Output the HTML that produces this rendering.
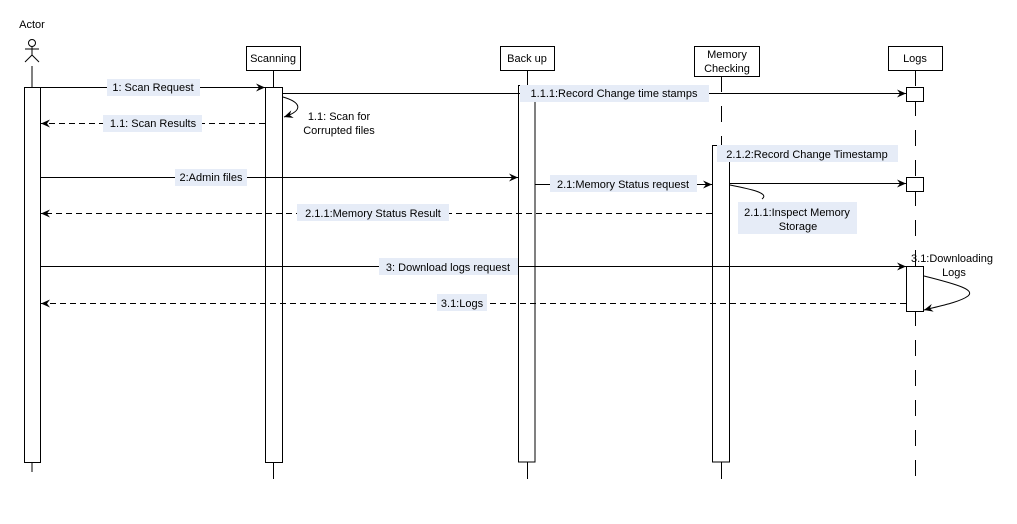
<!DOCTYPE html>
<html><head><meta charset="utf-8"><style>
html,body{margin:0;padding:0;background:#fff;}
svg{display:block;}
text{font-family:"Liberation Sans",Arial,sans-serif;font-size:11px;fill:#000;}
</style></head><body>
<svg width="1017" height="524" viewBox="0 0 1017 524" xmlns="http://www.w3.org/2000/svg">
<defs>
<marker id="a" markerWidth="10" markerHeight="8" refX="9" refY="4" orient="auto" markerUnits="userSpaceOnUse">
<path d="M0,0 L9,4 L0,8 L3,4 Z" fill="#000"/></marker>
</defs>
<g stroke="#000" stroke-width="1" fill="none">
<circle cx="32" cy="43" r="3.5"/>
<line x1="32" y1="46.5" x2="32" y2="55"/>
<line x1="25" y1="49" x2="39" y2="49"/>
<line x1="32" y1="55" x2="25" y2="62"/>
<line x1="32" y1="55" x2="39" y2="62"/>
<line x1="32" y1="66" x2="32" y2="87"/>
<line x1="32" y1="455" x2="32" y2="472"/>
<rect x="24.5" y="87.5" width="16" height="375" fill="#fff"/>
<rect x="246.5" y="46.5" width="54" height="24" fill="#fff"/>
<line x1="273.5" y1="70" x2="273.5" y2="479"/>
<rect x="265.5" y="87.5" width="17" height="375" fill="#fff"/>
<rect x="500.5" y="46.5" width="54" height="24" fill="#fff"/>
<line x1="527.5" y1="70" x2="527.5" y2="479"/>
<rect x="518.5" y="85.5" width="16.5" height="376.5" fill="#fff"/>
<rect x="694.5" y="46.5" width="65" height="30" fill="#fff"/>
<line x1="721.5" y1="76" x2="721.5" y2="145" stroke-dasharray="16,14"/>
<line x1="721.5" y1="462" x2="721.5" y2="479"/>
<rect x="712.5" y="145.5" width="17" height="316.5" fill="#fff"/>
<rect x="888.5" y="46.5" width="54" height="24" fill="#fff"/>
<line x1="915.5" y1="70" x2="915.5" y2="479" stroke-dasharray="16,14"/>
<rect x="906.5" y="87.5" width="17" height="14" fill="#fff"/>
<rect x="906.5" y="177.5" width="17" height="14" fill="#fff"/>
<rect x="906.5" y="266.5" width="17" height="45" fill="#fff"/>
<line x1="40" y1="87.5" x2="265" y2="87.5" marker-end="url(#a)"/>
<line x1="282" y1="93.5" x2="906" y2="93.5" marker-end="url(#a)"/>
<path d="M283,97 C300,102 305,110 284,117" marker-end="url(#a)"/>
<line x1="265" y1="123.5" x2="41" y2="123.5" stroke-dasharray="6,4" marker-end="url(#a)"/>
<line x1="40" y1="177.5" x2="518" y2="177.5" marker-end="url(#a)"/>
<line x1="535" y1="184.5" x2="712" y2="184.5" marker-end="url(#a)"/>
<line x1="729" y1="183.5" x2="906" y2="183.5" marker-end="url(#a)"/>
<path d="M730,185 C750,189 770,193 762,199"/>
<line x1="712" y1="213.5" x2="41" y2="213.5" stroke-dasharray="6,4" marker-end="url(#a)"/>
<line x1="40" y1="266.5" x2="906" y2="266.5" marker-end="url(#a)"/>
<path d="M924,276 C960,285 975,290 968,296 C960,302 940,306 924,310" marker-end="url(#a)"/>
<line x1="906" y1="303.5" x2="41" y2="303.5" stroke-dasharray="6,4" marker-end="url(#a)"/>
</g>
<g fill="#e6ecf7">
<rect x="107" y="79" width="93" height="17"/>
<rect x="520" y="85" width="189" height="17"/>
<rect x="103" y="115" width="99" height="17"/>
<rect x="175" y="169" width="72" height="17"/>
<rect x="717" y="145" width="181" height="17"/>
<rect x="550" y="175" width="147" height="17"/>
<rect x="297" y="204" width="152" height="17"/>
<rect x="738" y="202" width="119" height="32"/>
<rect x="379" y="258" width="139" height="17"/>
<rect x="437" y="294" width="50" height="17"/>
</g>
<text x="32" y="28" text-anchor="middle">Actor</text>
<text x="273" y="62" text-anchor="middle">Scanning</text>
<text x="527" y="62" text-anchor="middle">Back up</text>
<text x="727" y="58" text-anchor="middle">Memory</text>
<text x="727" y="72" text-anchor="middle">Checking</text>
<text x="915" y="62" text-anchor="middle">Logs</text>
<text x="153" y="91" text-anchor="middle">1: Scan Request</text>
<text x="614" y="97" text-anchor="middle">1.1.1:Record Change time stamps</text>
<text x="339" y="120" text-anchor="middle">1.1: Scan for</text>
<text x="339" y="134" text-anchor="middle">Corrupted files</text>
<text x="153" y="127" text-anchor="middle">1.1: Scan Results</text>
<text x="211" y="181" text-anchor="middle">2:Admin files</text>
<text x="807" y="158" text-anchor="middle">2.1.2:Record Change Timestamp</text>
<text x="623" y="188" text-anchor="middle">2.1:Memory Status request</text>
<text x="373" y="217" text-anchor="middle">2.1.1:Memory Status Result</text>
<text x="797" y="216" text-anchor="middle">2.1.1:Inspect Memory</text>
<text x="798" y="230" text-anchor="middle">Storage</text>
<text x="448" y="271" text-anchor="middle">3: Download logs request</text>
<text x="952" y="262" text-anchor="middle">3.1:Downloading</text>
<text x="954" y="276" text-anchor="middle">Logs</text>
<text x="462" y="307" text-anchor="middle">3.1:Logs</text>
</svg>
</body></html>
